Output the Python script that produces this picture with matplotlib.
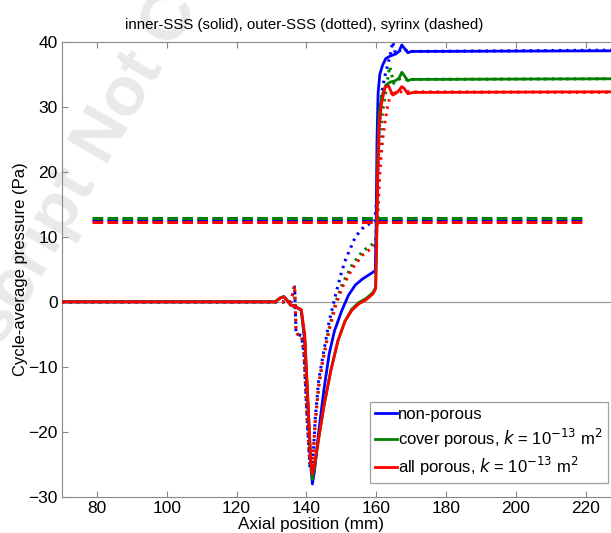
import matplotlib.pyplot as plt

plt.rcParams['font.family'] = ['Liberation Sans', 'DejaVu Sans']

# inner-SSS (solid) curves
x_inner_blue = [70, 131, 132.5, 133.5, 134.5, 135.5, 137, 138.5, 139.5, 140.5, 141.2, 141.7,
                142.3, 143.5, 145, 146.5, 148, 150, 152, 154, 156, 158, 159.7, 159.95, 160.2,
                160.5, 161, 161.8, 162.7, 164, 165.5, 166.5, 167.3, 168, 169, 170, 227.2]
y_inner_blue = [0, 0, 0.6, 0.8, 0.2, -0.5, -0.8, -1.3, -6, -17, -25, -28,
                -26, -20, -13.5, -8, -4.5, -1.5, 1, 2.6, 3.5, 4.2, 4.8, 12, 25,
                32, 35, 36.4, 37.4, 37.8, 38.1, 38.5, 39.5, 39.0, 38.3, 38.5, 38.6]

x_inner_green = [70, 131, 132.5, 133.5, 134.5, 135.5, 137, 138.5, 139.5, 140.5, 141.2, 141.7,
                 142.3, 143.5, 145, 147, 149, 151, 153, 155, 157, 159, 159.8, 160.1, 160.4,
                 160.8, 161.5, 162.7, 164, 165.5, 166.5, 167.3, 168, 169, 170, 227.2]
y_inner_green = [0, 0, 0.6, 0.8, 0.2, -0.5, -0.8, -1.2, -5.5, -16.5, -24.5, -27.3,
                 -25.5, -21, -16, -10.5, -6, -3, -1.1, -0.1, 0.5, 1.4, 2.2, 10, 22,
                 29, 31.5, 33.3, 33.8, 34, 34.4, 35.3, 34.8, 34, 34.2, 34.3]

x_inner_red = [70, 131, 132.5, 133.5, 134.5, 135.5, 137, 138.5, 139.5, 140.5, 141.2, 141.7,
               142.3, 143.5, 145, 147, 149, 151, 153, 155, 157, 159, 159.8, 160.1, 160.4,
               160.8, 161.5, 162.5, 163.5, 164.7, 166, 167.3, 168, 169, 170.5, 227.2]
y_inner_red = [0, 0, 0.6, 0.8, 0.2, -0.5, -0.8, -1.2, -5, -16, -24, -26.5,
               -25, -21, -16, -10.5, -6, -3, -1.3, -0.3, 0.3, 1.2, 2, 9, 20,
               27, 30.5, 33, 33.2, 31.8, 32.2, 33.1, 32.8, 32, 32.2, 32.3]

# outer-SSS (dotted) curves
x_outer_blue = [70, 135.5, 136.2, 136.6, 137, 137.5, 138.6, 139.3, 140.2, 141, 141.5, 142,
                142.5, 143.5, 144.5, 146.5, 148.3, 150, 151.2, 154, 156.7, 159.5, 160.2,
                160.8, 161.5, 162.4, 163.3, 164, 164.7, 165.3, 166.2, 167, 168, 169, 227.2]
y_outer_blue = [0, 0, 1.5, 2.3, -4.5, -5, -5.2, -8, -18, -25.5, -26, -23,
                -18, -12, -9, -3, 1, 4.5, 6.5, 10, 11.7, 12.3, 16,
                26, 32, 34.6, 36.5, 38, 40, 38.5, 38.2, 38.8, 38.9, 38.5, 38.7]

x_outer_green = [70, 135.5, 136.2, 136.6, 137, 137.5, 138.6, 139.3, 140.2, 141, 141.5, 142,
                 142.5, 143.5, 144.5, 146.5, 148.4, 150.3, 153.2, 156.1, 159, 159.8, 160.3,
                 160.9, 161.8, 162.5, 163.2, 163.8, 164.4, 165, 166, 167, 168, 227.2]
y_outer_green = [0, 0, 1.5, 2.5, -4.5, -5, -5.2, -8, -18, -25, -25.5, -23,
                 -18.5, -13, -9.5, -4, 0, 2.8, 5.8, 7.8, 8.9, 9.3, 14,
                 24, 29.4, 31.5, 34, 36.2, 35, 33.6, 34, 34.4, 34.2, 34.3]

x_outer_red = [70, 135.5, 136.2, 136.6, 137, 137.5, 138.6, 139.3, 140.2, 141, 141.5, 142,
               142.5, 143.5, 144.5, 146.5, 148.4, 150.3, 153.2, 156.1, 159, 159.8, 160.4,
               161, 161.8, 162.4, 163.2, 163.9, 164.8, 165.5, 166.5, 227.2]
y_outer_red = [0, 0, 1.5, 2.5, -4.5, -5, -5.2, -8, -18, -25, -25.5, -23,
               -18.5, -13, -9.5, -4.3, -0.5, 2.3, 5.2, 7.2, 8.4, 8.8, 13,
               20, 25, 27.4, 30, 31.5, 32.6, 32, 32.3, 32.2]

# syrinx (dashed)
x_syrinx = [78.5, 220]
y_syrinx_blue = [12.6, 12.6]
y_syrinx_green = [12.9, 12.9]
y_syrinx_red = [12.3, 12.3]

labels = ['non-porous',
          r'cover porous, $\it{k}$ = 10$^{-13}$ m$^2$',
          r'all porous, $\it{k}$ = 10$^{-13}$ m$^2$']
colors = ['#0000ff', '#008000', '#ff0000']

fig = plt.figure(figsize=(6.11, 5.33), dpi=100)
ax = fig.add_axes([62 / 611, 1 - 497 / 533, 549 / 611, (497 - 41.7) / 533])
ax.set_xlim(70, 227.2)
ax.set_ylim(-30, 40)

# faint journal watermark, cut by the figure edge as in the source
ax.text(38 / 611, 1 - 248 / 533, 'Accepted Manuscript Not Copyedited',
        transform=fig.transFigure, rotation=60, rotation_mode='anchor',
        ha='center', va='center', fontsize=50, fontweight='bold',
        color='#e9e9e9', zorder=0, clip_on=False)

ax.axhline(0, color='#9a9a9a', lw=0.9, zorder=1)

inner = [(x_inner_blue, y_inner_blue), (x_inner_green, y_inner_green), (x_inner_red, y_inner_red)]
outer = [(x_outer_blue, y_outer_blue), (x_outer_green, y_outer_green), (x_outer_red, y_outer_red)]
syrinx = [y_syrinx_blue, y_syrinx_green, y_syrinx_red]

for (xs, ys), c in zip(outer, colors):
    ax.plot(xs, ys, color=c, lw=2.2, ls=(0, (0.8, 1.6)), zorder=2)
for ys, c in zip(syrinx, colors):
    ax.plot(x_syrinx, ys, color=c, lw=2.2, ls=(0, (3.5, 1.4)), zorder=2)
handles = []
for (xs, ys), c, lab in zip(inner, colors, labels):
    h, = ax.plot(xs, ys, color=c, lw=2.0, zorder=3, label=lab)
    handles.append(h)

ax.set_title('inner-SSS (solid), outer-SSS (dotted), syrinx (dashed)',
             fontsize=10.8, pad=9, x=(304 - 62) / 549)
ax.set_xlabel('Axial position (mm)', fontsize=12.3)
ax.xaxis.set_label_coords((311 - 62) / 549, -0.043)
ax.set_ylabel('Cycle-average pressure (Pa)', fontsize=12)
ax.yaxis.set_label_coords((28 - 62) / 549, 0.5)

ax.set_xticks([80, 100, 120, 140, 160, 180, 200, 220])
ax.set_yticks([-30, -20, -10, 0, 10, 20, 30, 40])
ax.tick_params(direction='in', top=True, right=False, length=4, width=0.8,
               color='#888888', labelsize=12.5, pad=3)
for side in ['left', 'bottom', 'top']:
    ax.spines[side].set_color('#888888')
ax.spines['right'].set_visible(False)

leg = ax.legend(handles=handles, loc='lower right', bbox_to_anchor=(0.994, 0.031),
                fontsize=12, frameon=True, fancybox=False, handlelength=1.3,
                handletextpad=0.1, labelspacing=0.3, borderpad=0.3,
                borderaxespad=0)
leg.get_frame().set_edgecolor('#888888')
leg.get_frame().set_linewidth(0.9)

fig.savefig('out.png', dpi=100)
